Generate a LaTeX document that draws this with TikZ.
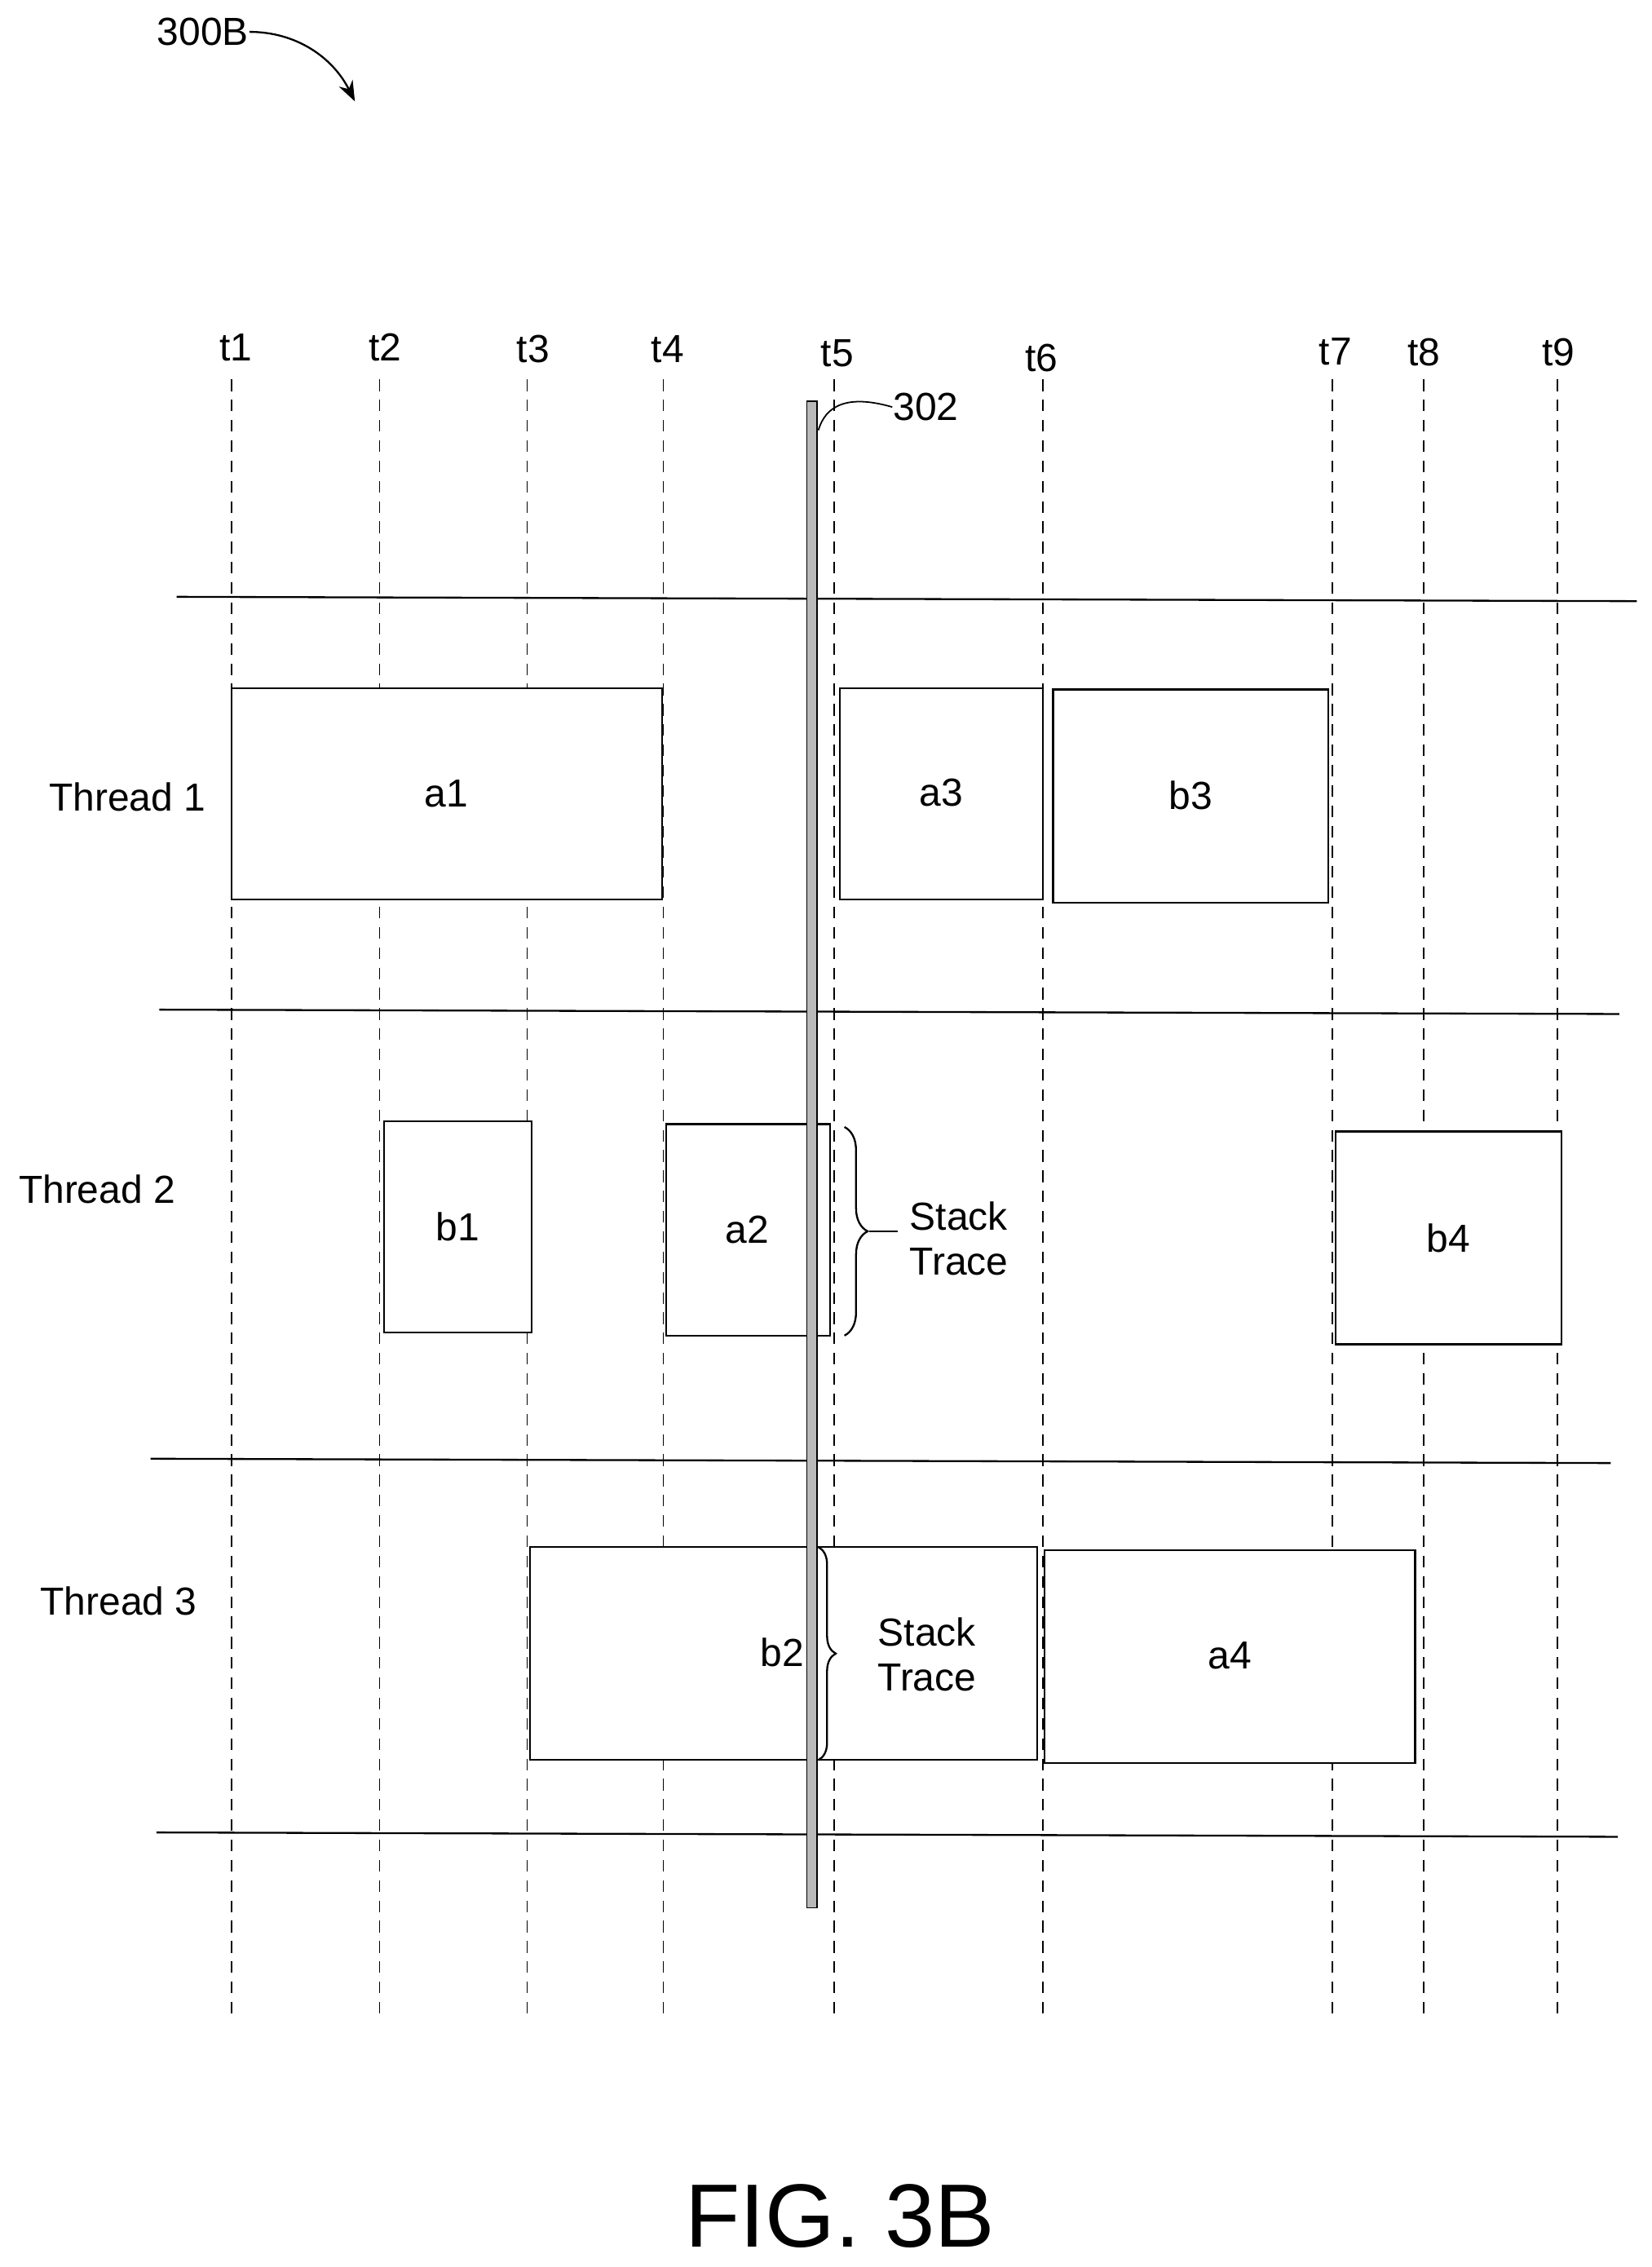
\documentclass[tikz,border=0pt]{standalone}
\usepackage{fontspec}
\setmainfont{Liberation Sans}
\usetikzlibrary{decorations.pathreplacing,arrows.meta}
\begin{document}
\begin{tikzpicture}[x=1pt,y=-1pt,line width=1.3pt,
  lbl/.style={font=\fontsize{27}{31}\selectfont,inner sep=0pt},
  task/.style={draw,fill=white},
  tline/.style={dash pattern=on 8pt off 6pt,line width=1pt},
  brace/.style={decorate,decoration={brace,amplitude=16pt,aspect=0.5}}]
\useasboundingbox (0,0) rectangle (1140,1565);
\node[lbl] (fig) at (140,22) {300B};
\coordinate (ae) at (245,70);
\draw[-{Stealth[length=14pt]}] (fig.east) .. controls (205,22) and (230,40) .. (ae);
% time lines
\foreach \n/\x/\lx/\ly in {1/160/163/240,2/262/266/240,3/364/368/241,4/458/461/241,5/576/578/244,6/720/719/247,7/920/922/243,8/983/983/243,9/1075/1076/243}{
  \node[lbl] (t\n) at (\lx,\ly) {t\n};
  \coordinate (b\n) at (\x,1390);
  \draw[tline] (\x,262) -- (b\n);
}
% thread separators
\draw (122,412) -- (1130,415);
\draw (110,697) -- (1118,700);
\draw (104,1007) -- (1112,1010);
\draw (108,1265) -- (1117,1268);
% thread labels
\node[lbl] (th1) at (88,550) {Thread 1};
\node[lbl] (th2) at (67,821) {Thread 2};
\node[lbl] (th3) at (82,1105) {Thread 3};
% boxes
\draw[task] (160,475) rectangle (457,621); \node[lbl] (a1) at (308,548) {a1};
\draw[task] (580,475) rectangle (720,621); \node[lbl] (a3) at (650,547) {a3};
\draw[task] (727,476) rectangle (917,623); \node[lbl] (b3) at (822,549) {b3};
\draw[task] (265,774) rectangle (367,920); \node[lbl] (b1) at (316,847) {b1};
\draw[task] (460,776) rectangle (573,922); \node[lbl] (a2) at (516,849) {a2};
\draw[task] (922,781) rectangle (1078,928); \node[lbl] (b4) at (1000,855) {b4};
\draw[task] (366,1068) rectangle (716,1215);
\draw[task] (721,1070) rectangle (977,1217); \node[lbl] (a4) at (849,1143) {a4};
\node[lbl] (b2) at (540,1141) {b2};
% bar 302
\draw[fill=gray!55,line width=1pt] (557,277) rectangle (564,1317);
\node[lbl,anchor=west] (r302) at (616,281) {302};
\draw[line width=1pt] (565,297) .. controls (570,280) and (585,272) .. (r302.west);
% braces
\draw[brace] (583,778) -- (583,922);
\draw (600,850) -- (620,850);
\node[lbl,align=center] (st1) at (662,855) {Stack\\Trace};
\draw[brace,decoration={amplitude=12pt}] (565,1068) -- (565,1215);
\node[lbl,align=center] (st2) at (640,1142) {Stack\\Trace};
\node[font=\fontsize{62}{72}\selectfont,inner sep=0pt] (cap) at (580,1530) {FIG. 3B};
\end{tikzpicture}
\end{document}
